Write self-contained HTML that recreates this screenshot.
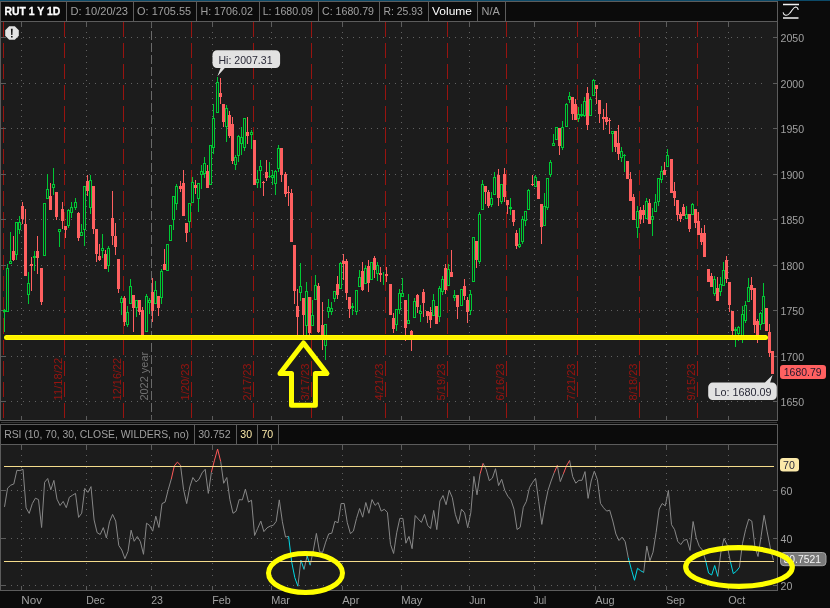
<!DOCTYPE html>
<html lang="en">
<head>
<meta charset="utf-8">
<title>RUT 1 Y 1D</title>
<style>
html,body{margin:0;padding:0;background:#0b0b0b;width:830px;height:608px;overflow:hidden}
svg{display:block}
</style>
</head>
<body>
<svg width="830" height="608" viewBox="0 0 830 608" font-family="'Liberation Sans', sans-serif" font-size="11">
<rect width="830" height="608" fill="#0b0b0b"/>
<rect x="0" y="0" width="830" height="1" fill="#0c4a68"/>
<rect x="1" y="22" width="776" height="398" fill="#1c1c1c"/>
<rect x="1" y="445" width="776" height="145" fill="#1c1c1c"/>
<g stroke="#616161" stroke-width="1" fill="none" shape-rendering="crispEdges">
<path d="M11 37.5H765" stroke-dasharray="1 5"/>
<path d="M11 83.5H765" stroke-dasharray="1 5"/>
<path d="M11 128.5H765" stroke-dasharray="1 5"/>
<path d="M11 174.5H765" stroke-dasharray="1 5"/>
<path d="M11 219.5H765" stroke-dasharray="1 5"/>
<path d="M11 265.5H765" stroke-dasharray="1 5"/>
<path d="M11 310.5H765" stroke-dasharray="1 5"/>
<path d="M11 356.5H765" stroke-dasharray="1 5"/>
<path d="M11 401.5H765" stroke-dasharray="1 5"/>
<path d="M11 490.5H765" stroke-dasharray="1 5"/>
<path d="M11 538.5H765" stroke-dasharray="1 5"/>
<path d="M11 585.5H765" stroke-dasharray="1 5"/>
<path d="M21.5 32V406" stroke-dasharray="1 5"/>
<path d="M21.5 455V577" stroke-dasharray="1 5"/>
<path d="M86.5 32V406" stroke-dasharray="1 5"/>
<path d="M86.5 455V577" stroke-dasharray="1 5"/>
<path d="M212.5 32V406" stroke-dasharray="1 5"/>
<path d="M212.5 455V577" stroke-dasharray="1 5"/>
<path d="M271.5 32V406" stroke-dasharray="1 5"/>
<path d="M271.5 455V577" stroke-dasharray="1 5"/>
<path d="M342.5 32V406" stroke-dasharray="1 5"/>
<path d="M342.5 455V577" stroke-dasharray="1 5"/>
<path d="M401.5 32V406" stroke-dasharray="1 5"/>
<path d="M401.5 455V577" stroke-dasharray="1 5"/>
<path d="M469.5 32V406" stroke-dasharray="1 5"/>
<path d="M469.5 455V577" stroke-dasharray="1 5"/>
<path d="M534.5 32V406" stroke-dasharray="1 5"/>
<path d="M534.5 455V577" stroke-dasharray="1 5"/>
<path d="M595.5 32V406" stroke-dasharray="1 5"/>
<path d="M595.5 455V577" stroke-dasharray="1 5"/>
<path d="M666.5 32V406" stroke-dasharray="1 5"/>
<path d="M666.5 455V577" stroke-dasharray="1 5"/>
<path d="M728.5 32V406" stroke-dasharray="1 5"/>
<path d="M728.5 455V577" stroke-dasharray="1 5"/>
</g>
<path d="M151.5 22V420" stroke="#6a6a6a" stroke-width="1" stroke-dasharray="8.5 3.5" stroke-dashoffset="2.9" shape-rendering="crispEdges"/>
<path d="M151.5 455V577" stroke="#616161" stroke-width="1" stroke-dasharray="1 5" shape-rendering="crispEdges"/>
<g stroke="#981410" stroke-width="1" shape-rendering="crispEdges">
<path d="M3.5 21.5V418.4" stroke-dasharray="15.4 5.8"/>
<path d="M64.5 21.5V418.4" stroke-dasharray="15.4 5.8"/>
<path d="M123.5 21.5V418.4" stroke-dasharray="15.4 5.8"/>
<path d="M191.5 21.5V418.4" stroke-dasharray="15.4 5.8"/>
<path d="M253.5 21.5V418.4" stroke-dasharray="15.4 5.8"/>
<path d="M311.5 21.5V418.4" stroke-dasharray="15.4 5.8"/>
<path d="M385.5 21.5V418.4" stroke-dasharray="15.4 5.8"/>
<path d="M447.5 21.5V418.4" stroke-dasharray="15.4 5.8"/>
<path d="M506.5 21.5V418.4" stroke-dasharray="15.4 5.8"/>
<path d="M577.5 21.5V418.4" stroke-dasharray="15.4 5.8"/>
<path d="M639.5 21.5V418.4" stroke-dasharray="15.4 5.8"/>
<path d="M697.5 21.5V418.4" stroke-dasharray="15.4 5.8"/>
</g>
<g fill="#981410" font-size="11.5">
<text transform="translate(61.5 400.4) rotate(-90)" textLength="42.6" lengthAdjust="spacingAndGlyphs">11/18/22</text>
<text transform="translate(120.5 400.4) rotate(-90)" textLength="42.6" lengthAdjust="spacingAndGlyphs">12/16/22</text>
<text transform="translate(188.5 400.4) rotate(-90)" textLength="36.8" lengthAdjust="spacingAndGlyphs">1/20/23</text>
<text transform="translate(250.5 400.4) rotate(-90)" textLength="36.8" lengthAdjust="spacingAndGlyphs">2/17/23</text>
<text transform="translate(308.5 400.4) rotate(-90)" textLength="36.8" lengthAdjust="spacingAndGlyphs">3/17/23</text>
<text transform="translate(382.5 400.4) rotate(-90)" textLength="36.8" lengthAdjust="spacingAndGlyphs">4/21/23</text>
<text transform="translate(444.5 400.4) rotate(-90)" textLength="36.8" lengthAdjust="spacingAndGlyphs">5/19/23</text>
<text transform="translate(503.5 400.4) rotate(-90)" textLength="36.8" lengthAdjust="spacingAndGlyphs">6/16/23</text>
<text transform="translate(574.5 400.4) rotate(-90)" textLength="36.8" lengthAdjust="spacingAndGlyphs">7/21/23</text>
<text transform="translate(636.5 400.4) rotate(-90)" textLength="36.8" lengthAdjust="spacingAndGlyphs">8/18/23</text>
<text transform="translate(694.5 400.4) rotate(-90)" textLength="36.8" lengthAdjust="spacingAndGlyphs">9/15/23</text>
</g>
<text transform="translate(147.6 400.6) rotate(-90)" fill="#707070" font-size="11.3" textLength="48.8" lengthAdjust="spacingAndGlyphs">2022 year</text>
<g stroke="#5c5c5c" stroke-width="1" shape-rendering="crispEdges">
<path d="M21.5 22V27M21.5 416V420M21.5 445V450M21.5 586V590"/>
<path d="M86.5 22V27M86.5 416V420M86.5 445V450M86.5 586V590"/>
<path d="M151.5 22V27M151.5 416V420M151.5 445V450M151.5 586V590"/>
<path d="M212.5 22V27M212.5 416V420M212.5 445V450M212.5 586V590"/>
<path d="M271.5 22V27M271.5 416V420M271.5 445V450M271.5 586V590"/>
<path d="M342.5 22V27M342.5 416V420M342.5 445V450M342.5 586V590"/>
<path d="M401.5 22V27M401.5 416V420M401.5 445V450M401.5 586V590"/>
<path d="M469.5 22V27M469.5 416V420M469.5 445V450M469.5 586V590"/>
<path d="M534.5 22V27M534.5 416V420M534.5 445V450M534.5 586V590"/>
<path d="M595.5 22V27M595.5 416V420M595.5 445V450M595.5 586V590"/>
<path d="M666.5 22V27M666.5 416V420M666.5 445V450M666.5 586V590"/>
<path d="M728.5 22V27M728.5 416V420M728.5 445V450M728.5 586V590"/>
<path d="M1 37.5H6M773 37.5H777"/>
<path d="M1 83.5H6M773 83.5H777"/>
<path d="M1 128.5H6M773 128.5H777"/>
<path d="M1 174.5H6M773 174.5H777"/>
<path d="M1 219.5H6M773 219.5H777"/>
<path d="M1 265.5H6M773 265.5H777"/>
<path d="M1 310.5H6M773 310.5H777"/>
<path d="M1 356.5H6M773 356.5H777"/>
<path d="M1 401.5H6M773 401.5H777"/>
<path d="M1 490.5H6M773 490.5H777"/>
<path d="M1 538.5H6M773 538.5H777"/>
<path d="M1 585.5H6M773 585.5H777"/>
</g>
<g shape-rendering="crispEdges">
<path fill="#00c834" d="M4 309h1v23h-1zM7 264h1v48h-1zM10 232h1v32h-1zM16 222h1v38h-1zM19 216h1v18h-1zM28 272h1v32h-1zM34 251h1v20h-1zM44 203h1v53h-1zM47 174h1v25h-1zM53 168h1v27h-1zM59 229h1v18h-1zM68 209h1v19h-1zM71 202h1v16h-1zM75 198h1v12h-1zM81 224h1v12h-1zM84 186h1v60h-1zM90 175h1v39h-1zM102 234h1v24h-1zM108 246h1v26h-1zM121 296h1v19h-1zM127 306h1v21h-1zM130 279h1v25h-1zM136 300h1v17h-1zM146 294h1v38h-1zM149 298h1v16h-1zM155 281h1v23h-1zM161 269h1v35h-1zM167 244h1v27h-1zM170 225h1v16h-1zM173 196h1v34h-1zM176 184h1v26h-1zM189 203h1v29h-1zM192 177h1v26h-1zM198 183h1v29h-1zM201 165h1v24h-1zM204 157h1v21h-1zM210 145h1v40h-1zM213 104h1v50h-1zM217 77h1v36h-1zM226 105h1v37h-1zM235 155h1v15h-1zM238 135h1v27h-1zM241 127h1v28h-1zM244 118h1v33h-1zM251 130h1v19h-1zM257 170h1v18h-1zM260 160h1v28h-1zM269 162h1v16h-1zM272 170h1v15h-1zM275 170h1v25h-1zM278 145h1v27h-1zM300 263h1v38h-1zM306 282h1v54h-1zM312 300h1v26h-1zM315 275h1v25h-1zM325 324h1v36h-1zM328 299h1v19h-1zM331 302h1v13h-1zM334 291h1v11h-1zM340 262h1v27h-1zM352 303h1v12h-1zM356 290h1v25h-1zM359 270h1v17h-1zM365 265h1v19h-1zM371 262h1v18h-1zM377 262h1v19h-1zM383 272h1v13h-1zM396 309h1v22h-1zM399 289h1v25h-1zM402 278h1v19h-1zM408 294h1v30h-1zM414 298h1v20h-1zM420 305h1v17h-1zM433 294h1v22h-1zM439 286h1v36h-1zM442 276h1v19h-1zM448 264h1v22h-1zM454 290h1v11h-1zM461 289h1v17h-1zM470 290h1v25h-1zM473 237h1v45h-1zM479 212h1v52h-1zM482 180h1v30h-1zM491 192h1v15h-1zM494 172h1v23h-1zM501 184h1v20h-1zM510 198h1v17h-1zM519 228h1v20h-1zM522 216h1v28h-1zM525 211h1v15h-1zM528 189h1v21h-1zM535 175h1v12h-1zM544 193h1v33h-1zM547 178h1v32h-1zM550 160h1v17h-1zM553 134h1v12h-1zM556 127h1v13h-1zM562 121h1v29h-1zM566 103h1v24h-1zM569 92h1v11h-1zM578 107h1v15h-1zM581 104h1v13h-1zM584 97h1v20h-1zM590 97h1v19h-1zM593 79h1v17h-1zM612 131h1v21h-1zM621 147h1v15h-1zM624 154h1v18h-1zM637 206h1v32h-1zM646 198h1v21h-1zM652 208h1v28h-1zM655 194h1v18h-1zM658 178h1v28h-1zM661 166h1v17h-1zM667 149h1v18h-1zM686 206h1v13h-1zM692 203h1v12h-1zM714 276h1v20h-1zM720 277h1v19h-1zM723 262h1v24h-1zM735 327h1v20h-1zM738 326h1v15h-1zM742 306h1v37h-1zM745 301h1v22h-1zM748 278h1v24h-1zM760 312h1v18h-1zM763 283h1v41h-1zM3 310h3v2h-3zM33 256h3v2h-3zM268 176h3v1h-3zM351 306h3v2h-3zM509 207h3v2h-3zM580 114h3v2h-3zM623 155h3v1h-3zM734 329h3v2h-3z"/>
<path fill="#ff6060" d="M13 236h1v25h-1zM22 202h1v22h-1zM25 209h1v67h-1zM31 257h1v34h-1zM37 236h1v38h-1zM41 268h1v37h-1zM50 183h1v27h-1zM56 192h1v28h-1zM62 202h1v27h-1zM65 226h1v12h-1zM78 212h1v29h-1zM87 175h1v21h-1zM93 186h1v48h-1zM96 229h1v33h-1zM99 244h1v17h-1zM105 250h1v19h-1zM112 191h1v54h-1zM115 223h1v32h-1zM118 259h1v34h-1zM124 296h1v30h-1zM133 295h1v37h-1zM139 300h1v15h-1zM142 307h1v28h-1zM152 278h1v44h-1zM158 296h1v20h-1zM164 249h1v21h-1zM180 181h1v11h-1zM183 170h1v46h-1zM186 223h1v19h-1zM195 180h1v14h-1zM207 165h1v23h-1zM220 78h1v26h-1zM223 104h1v23h-1zM229 111h1v27h-1zM232 117h1v47h-1zM247 117h1v27h-1zM254 140h1v45h-1zM263 181h1v15h-1zM266 160h1v21h-1zM281 148h1v34h-1zM285 172h1v25h-1zM288 186h1v20h-1zM291 189h1v53h-1zM294 245h1v59h-1zM297 289h1v47h-1zM303 298h1v39h-1zM309 297h1v38h-1zM318 283h1v50h-1zM322 302h1v48h-1zM337 276h1v23h-1zM343 254h1v26h-1zM346 259h1v41h-1zM349 297h1v21h-1zM362 262h1v29h-1zM368 260h1v32h-1zM374 256h1v22h-1zM380 267h1v15h-1zM386 267h1v15h-1zM390 284h1v31h-1zM393 313h1v20h-1zM405 300h1v41h-1zM411 330h1v21h-1zM417 294h1v19h-1zM423 289h1v28h-1zM427 311h1v12h-1zM430 307h1v21h-1zM436 306h1v18h-1zM445 264h1v30h-1zM451 250h1v27h-1zM457 295h1v24h-1zM464 279h1v21h-1zM467 297h1v26h-1zM476 241h1v27h-1zM485 186h1v18h-1zM488 190h1v18h-1zM498 169h1v37h-1zM504 168h1v34h-1zM507 200h1v14h-1zM513 210h1v16h-1zM516 230h1v19h-1zM532 175h1v11h-1zM538 181h1v18h-1zM541 204h1v40h-1zM559 128h1v27h-1zM572 97h1v23h-1zM575 99h1v21h-1zM587 87h1v43h-1zM596 85h1v19h-1zM599 100h1v23h-1zM603 109h1v21h-1zM606 103h1v22h-1zM609 118h1v16h-1zM615 131h1v21h-1zM618 125h1v35h-1zM627 161h1v18h-1zM630 172h1v29h-1zM633 194h1v26h-1zM640 207h1v17h-1zM643 205h1v18h-1zM649 199h1v25h-1zM664 162h1v13h-1zM671 159h1v34h-1zM674 182h1v24h-1zM677 200h1v21h-1zM680 212h1v10h-1zM683 204h1v12h-1zM689 214h1v18h-1zM695 209h1v19h-1zM698 212h1v23h-1zM701 228h1v17h-1zM704 225h1v32h-1zM708 269h1v13h-1zM711 273h1v14h-1zM717 277h1v24h-1zM726 256h1v27h-1zM729 282h1v30h-1zM732 311h1v24h-1zM751 277h1v23h-1zM754 288h1v45h-1zM757 319h1v24h-1zM766 308h1v23h-1zM769 324h1v33h-1zM772 351h1v23h-1zM12 251h3v9h-3zM21 206h3v13h-3zM24 224h3v52h-3zM30 264h3v2h-3zM36 251h3v7h-3zM40 268h3v34h-3zM49 196h3v14h-3zM55 192h3v25h-3zM61 209h3v12h-3zM64 226h3v4h-3zM77 213h3v25h-3zM86 181h3v10h-3zM92 186h3v43h-3zM95 229h3v25h-3zM98 256h3v4h-3zM104 254h3v15h-3zM111 218h3v18h-3zM114 236h3v11h-3zM117 259h3v30h-3zM123 298h3v24h-3zM132 295h3v13h-3zM138 300h3v12h-3zM141 310h3v25h-3zM151 292h3v19h-3zM157 296h3v12h-3zM163 264h3v6h-3zM179 186h3v3h-3zM182 183h3v33h-3zM185 223h3v10h-3zM194 185h3v3h-3zM206 171h3v17h-3zM219 93h3v4h-3zM222 104h3v18h-3zM228 115h3v21h-3zM231 124h3v37h-3zM246 132h3v4h-3zM253 140h3v45h-3zM262 182h3v1h-3zM265 172h3v6h-3zM280 148h3v27h-3zM284 174h3v20h-3zM287 192h3v1h-3zM290 193h3v49h-3zM293 245h3v46h-3zM296 306h3v11h-3zM302 298h3v17h-3zM308 297h3v36h-3zM317 286h3v46h-3zM321 325h3v13h-3zM336 284h3v11h-3zM342 261h3v3h-3zM345 261h3v32h-3zM348 297h3v12h-3zM361 271h3v19h-3zM367 266h3v17h-3zM373 258h3v12h-3zM379 273h3v2h-3zM385 274h3v2h-3zM389 284h3v31h-3zM392 318h3v11h-3zM404 300h3v28h-3zM410 331h3v4h-3zM416 295h3v12h-3zM422 292h3v11h-3zM426 311h3v5h-3zM429 312h3v8h-3zM435 306h3v18h-3zM444 268h3v22h-3zM450 272h3v5h-3zM456 295h3v12h-3zM463 286h3v10h-3zM466 300h3v12h-3zM475 241h3v19h-3zM484 186h3v6h-3zM487 192h3v14h-3zM497 175h3v23h-3zM503 174h3v23h-3zM506 200h3v5h-3zM512 210h3v12h-3zM515 233h3v13h-3zM531 184h3v1h-3zM537 181h3v18h-3zM540 204h3v23h-3zM558 128h3v18h-3zM571 97h3v17h-3zM574 104h3v16h-3zM586 93h3v32h-3zM595 85h3v4h-3zM598 100h3v14h-3zM602 117h3v2h-3zM605 117h3v5h-3zM608 120h3v1h-3zM614 131h3v16h-3zM617 143h3v11h-3zM626 161h3v18h-3zM629 179h3v22h-3zM632 197h3v23h-3zM639 210h3v9h-3zM642 210h3v5h-3zM648 203h3v21h-3zM663 170h3v5h-3zM670 159h3v34h-3zM673 191h3v7h-3zM676 200h3v15h-3zM679 214h3v5h-3zM682 207h3v9h-3zM688 214h3v15h-3zM694 209h3v14h-3zM697 221h3v14h-3zM700 233h3v9h-3zM703 233h3v24h-3zM707 269h3v13h-3zM710 276h3v11h-3zM716 288h3v13h-3zM725 260h3v19h-3zM728 282h3v23h-3zM731 311h3v20h-3zM750 285h3v5h-3zM753 288h3v37h-3zM756 321h3v14h-3zM765 308h3v23h-3zM768 332h3v21h-3zM771 351h3v23h-3z"/>
<g fill="#1c1c1c" stroke="#00c834" stroke-width="1"><rect x="6.5" y="268.5" width="2" height="43"/><rect x="9.5" y="261.5" width="2" height="2"/><rect x="15.5" y="222.5" width="2" height="32"/><rect x="18.5" y="222.5" width="2" height="7"/><rect x="27.5" y="283.5" width="2" height="11"/><rect x="43.5" y="203.5" width="2" height="52"/><rect x="46.5" y="189.5" width="2" height="9"/><rect x="52.5" y="184.5" width="2" height="3"/><rect x="58.5" y="229.5" width="2" height="2"/><rect x="67.5" y="210.5" width="2" height="15"/><rect x="70.5" y="207.5" width="2" height="5"/><rect x="74.5" y="202.5" width="2" height="5"/><rect x="80.5" y="232.5" width="2" height="3"/><rect x="83.5" y="186.5" width="2" height="43"/><rect x="89.5" y="180.5" width="2" height="27"/><rect x="101.5" y="248.5" width="2" height="2"/><rect x="107.5" y="248.5" width="2" height="17"/><rect x="120.5" y="298.5" width="2" height="4"/><rect x="126.5" y="312.5" width="2" height="12"/><rect x="129.5" y="286.5" width="2" height="17"/><rect x="135.5" y="300.5" width="2" height="7"/><rect x="145.5" y="296.5" width="2" height="35"/><rect x="148.5" y="300.5" width="2" height="2"/><rect x="154.5" y="290.5" width="2" height="13"/><rect x="160.5" y="271.5" width="2" height="26"/><rect x="166.5" y="244.5" width="2" height="26"/><rect x="169.5" y="225.5" width="2" height="15"/><rect x="172.5" y="196.5" width="2" height="23"/><rect x="175.5" y="186.5" width="2" height="17"/><rect x="188.5" y="203.5" width="2" height="18"/><rect x="191.5" y="182.5" width="2" height="20"/><rect x="197.5" y="183.5" width="2" height="15"/><rect x="200.5" y="171.5" width="2" height="3"/><rect x="203.5" y="163.5" width="2" height="10"/><rect x="209.5" y="145.5" width="2" height="39"/><rect x="212.5" y="118.5" width="2" height="29"/><rect x="216.5" y="82.5" width="2" height="30"/><rect x="225.5" y="108.5" width="2" height="18"/><rect x="234.5" y="157.5" width="2" height="7"/><rect x="237.5" y="136.5" width="2" height="19"/><rect x="240.5" y="137.5" width="2" height="6"/><rect x="243.5" y="118.5" width="2" height="29"/><rect x="250.5" y="132.5" width="2" height="2"/><rect x="256.5" y="179.5" width="2" height="3"/><rect x="259.5" y="166.5" width="2" height="4"/><rect x="271.5" y="175.5" width="2" height="2"/><rect x="274.5" y="171.5" width="2" height="12"/><rect x="277.5" y="148.5" width="2" height="20"/><rect x="299.5" y="286.5" width="2" height="6"/><rect x="305.5" y="291.5" width="2" height="34"/><rect x="311.5" y="315.5" width="2" height="10"/><rect x="314.5" y="285.5" width="2" height="14"/><rect x="324.5" y="324.5" width="2" height="21"/><rect x="327.5" y="307.5" width="2" height="4"/><rect x="330.5" y="308.5" width="2" height="3"/><rect x="333.5" y="291.5" width="2" height="7"/><rect x="339.5" y="263.5" width="2" height="25"/><rect x="355.5" y="290.5" width="2" height="21"/><rect x="358.5" y="277.5" width="2" height="9"/><rect x="364.5" y="268.5" width="2" height="15"/><rect x="370.5" y="262.5" width="2" height="17"/><rect x="376.5" y="265.5" width="2" height="8"/><rect x="395.5" y="309.5" width="2" height="15"/><rect x="398.5" y="293.5" width="2" height="16"/><rect x="401.5" y="293.5" width="2" height="3"/><rect x="407.5" y="320.5" width="2" height="3"/><rect x="413.5" y="301.5" width="2" height="16"/><rect x="419.5" y="311.5" width="2" height="2"/><rect x="432.5" y="300.5" width="2" height="15"/><rect x="438.5" y="288.5" width="2" height="28"/><rect x="441.5" y="279.5" width="2" height="12"/><rect x="447.5" y="269.5" width="2" height="16"/><rect x="453.5" y="295.5" width="2" height="2"/><rect x="460.5" y="289.5" width="2" height="16"/><rect x="469.5" y="294.5" width="2" height="16"/><rect x="472.5" y="237.5" width="2" height="44"/><rect x="478.5" y="214.5" width="2" height="47"/><rect x="481.5" y="184.5" width="2" height="25"/><rect x="490.5" y="198.5" width="2" height="6"/><rect x="493.5" y="177.5" width="2" height="17"/><rect x="500.5" y="184.5" width="2" height="17"/><rect x="518.5" y="244.5" width="2" height="2"/><rect x="521.5" y="219.5" width="2" height="22"/><rect x="524.5" y="211.5" width="2" height="9"/><rect x="527.5" y="190.5" width="2" height="19"/><rect x="534.5" y="177.5" width="2" height="9"/><rect x="543.5" y="206.5" width="2" height="19"/><rect x="546.5" y="178.5" width="2" height="29"/><rect x="549.5" y="162.5" width="2" height="12"/><rect x="552.5" y="143.5" width="2" height="2"/><rect x="555.5" y="127.5" width="2" height="12"/><rect x="561.5" y="127.5" width="2" height="20"/><rect x="565.5" y="104.5" width="2" height="22"/><rect x="568.5" y="96.5" width="2" height="3"/><rect x="577.5" y="114.5" width="2" height="4"/><rect x="583.5" y="101.5" width="2" height="14"/><rect x="589.5" y="99.5" width="2" height="16"/><rect x="592.5" y="80.5" width="2" height="15"/><rect x="611.5" y="131.5" width="2" height="2"/><rect x="620.5" y="151.5" width="2" height="6"/><rect x="636.5" y="211.5" width="2" height="16"/><rect x="645.5" y="201.5" width="2" height="17"/><rect x="651.5" y="216.5" width="2" height="3"/><rect x="654.5" y="202.5" width="2" height="9"/><rect x="657.5" y="178.5" width="2" height="23"/><rect x="660.5" y="171.5" width="2" height="8"/><rect x="666.5" y="155.5" width="2" height="11"/><rect x="685.5" y="214.5" width="2" height="4"/><rect x="691.5" y="204.5" width="2" height="10"/><rect x="713.5" y="279.5" width="2" height="14"/><rect x="719.5" y="284.5" width="2" height="7"/><rect x="722.5" y="270.5" width="2" height="15"/><rect x="737.5" y="327.5" width="2" height="6"/><rect x="741.5" y="314.5" width="2" height="21"/><rect x="744.5" y="305.5" width="2" height="15"/><rect x="747.5" y="287.5" width="2" height="14"/><rect x="759.5" y="313.5" width="2" height="11"/><rect x="762.5" y="296.5" width="2" height="27"/></g>
</g>
<g fill="none" stroke-width="1" stroke-linejoin="miter" stroke-miterlimit="3">
<path stroke="#878787" d="M4.5 506.9L7.6 488.1L10.7 485.2L13.8 484.0L16.9 470.3L19.9 470.6L23.0 469.3L26.1 507.9L29.2 513.4L32.3 503.6L35.4 498.2L38.5 499.6L41.6 527.5L44.6 482.3L47.7 478.5L50.8 489.8L53.9 480.4L57.0 499.2L60.1 505.5L63.2 501.4L66.3 507.7L69.3 497.3L72.4 495.3L75.5 493.4L78.6 517.4L81.7 513.2L84.8 488.4L87.9 492.4L91.0 486.6L94.1 520.0L97.1 532.6L100.2 534.5L103.3 527.6L106.4 538.0L109.5 521.8L112.6 514.4L115.7 521.1L118.8 545.5L121.8 550.0L124.9 558.7L128.0 551.4L131.1 530.2L134.2 541.3L137.3 536.5L140.4 541.7L143.5 554.3L146.5 523.2L149.6 525.4L152.7 531.2L155.8 516.2L158.9 527.5L162.0 503.6L165.1 502.1L168.2 489.8L171.3 479.0M180.5 465.2L183.6 489.8L186.7 503.6L189.8 486.9L192.9 477.5L196.0 481.9L199.0 479.4L202.1 472.8L205.2 469.3L208.3 493.4L211.4 472.2M220.7 461.5L223.7 483.3L226.8 477.5L229.9 499.7L233.0 513.3L236.1 511.2L239.2 499.6L242.3 499.9L245.4 489.1L248.5 502.1L251.5 500.2L254.6 535.5L257.7 528.3L260.8 521.1L263.9 531.6L267.0 527.9L270.1 526.1L273.2 525.4L276.2 521.4L279.3 499.9L282.4 521.8L285.5 537.0L288.6 536.4M297.9 586.2L300.9 560.1M304.0 569.4L307.1 556.0M310.2 565.2L313.3 550.4L316.4 533.4L319.5 551.8L322.6 552.3L325.7 542.1L328.7 533.9L331.8 533.2L334.9 521.3L338.0 522.8L341.1 503.5L344.2 503.5L347.3 522.7L350.4 533.6L353.4 531.1L356.5 518.4L359.6 508.5L362.7 517.2L365.8 502.5L368.9 513.3L372.0 499.6L375.1 505.4L378.1 502.5L381.2 511.1L384.3 509.3L387.4 512.3L390.5 544.4L393.6 553.5L396.7 532.8L399.8 518.4L402.9 518.4L405.9 543.2L409.0 536.4L412.1 548.7L415.2 515.5L418.3 519.1L421.4 522.4L424.5 514.3L427.6 525.3L430.6 528.5L433.7 510.4L436.8 529.6L439.9 501.0L443.0 495.5L446.1 504.7L449.2 490.3L452.3 497.6L455.3 514.3L458.4 523.7L461.5 509.2L464.6 512.8L467.7 527.6L470.8 512.8L473.9 476.4L477.0 494.8L480.1 473.8M483.1 463.4L486.2 469.5L489.3 480.7L492.4 478.1L495.5 468.7L498.6 485.6L501.7 479.3L504.8 490.4L507.8 496.2L510.9 499.8L514.0 509.2L517.1 529.5L520.2 527.3L523.3 507.3L526.4 501.3L529.5 487.5L532.5 482.5L535.6 478.4L538.7 501.3L541.8 524.4L544.9 505.6L548.0 490.4L551.1 481.0L554.2 472.7M557.3 465.4L560.3 481.6L563.4 473.8M569.6 460.5L572.7 476.7L575.8 483.2L578.9 480.3L582.0 480.3L585.0 471.6L588.1 498.4L591.2 481.0L594.3 471.2L597.4 479.6L600.5 503.4L603.6 507.8L606.7 511.1L609.7 510.2L612.8 521.0L615.9 534.0L619.0 540.5L622.1 537.2L625.2 541.7L628.3 557.9M643.7 572.4L646.8 546.1L649.9 560.8L653.0 552.2L656.1 532.6L659.2 509.0L662.2 503.5L665.3 505.9L668.4 490.4L671.5 524.7L674.6 529.7L677.7 541.3L680.8 544.6L683.9 540.3L686.9 539.4L690.0 550.4L693.1 521.5L696.2 537.7L699.3 546.4L702.4 550.0L705.5 560.1M717.8 576.4L720.9 552.2L724.0 538.4L727.1 544.9L730.2 560.8M739.4 567.3L742.5 543.5L745.6 529.7L748.7 519.2L751.8 521.1L754.9 546.4L758.0 556.5L761.1 536.3L764.1 515.3L767.2 531.9L770.3 547.8L773.4 560.2"/>
<path stroke="#ff5a5a" d="M171.3 479.0L174.3 465.9L177.4 462.1L180.5 465.2M211.4 472.2L214.5 460.2L217.6 449.0L220.7 461.5M480.1 473.8L483.1 463.4M554.2 472.7L557.3 465.4M563.4 473.8L566.5 465.8L569.6 460.5"/>
<path stroke="#00d8e6" d="M288.6 536.4L291.7 562.0L294.8 577.6L297.9 586.2M300.9 560.1L304.0 569.4M307.1 556.0L310.2 565.2M628.3 557.9L631.4 569.5L634.5 580.3L637.5 568.3L640.6 570.7L643.7 572.4M705.5 560.1L708.6 573.1L711.7 575.0L714.7 565.5L717.8 576.4M730.2 560.8L733.3 573.6L736.4 571.2L739.4 567.3"/>
</g>
<path d="M4 466.5H774M4 561.5H774" stroke="#f5dc8c" stroke-width="1" shape-rendering="crispEdges"/>
<g fill="#5c5c5c" shape-rendering="crispEdges">
<rect x="0" y="1" width="1" height="420"/>
<rect x="777" y="1" width="1" height="420"/>
<rect x="0" y="1" width="778" height="1"/>
<rect x="0" y="21" width="778" height="1"/>
<rect x="0" y="420" width="778" height="1"/>
<rect x="1" y="422" width="776" height="1" fill="#343434"/>
<rect x="0" y="424" width="778" height="1"/>
<rect x="0" y="444" width="778" height="1"/>
<rect x="0" y="590" width="778" height="1"/>
<rect x="0" y="424" width="1" height="167"/>
<rect x="777" y="424" width="1" height="167"/>
<rect x="66" y="2" width="1" height="19"/>
<rect x="133" y="2" width="1" height="19"/>
<rect x="196" y="2" width="1" height="19"/>
<rect x="259" y="2" width="1" height="19"/>
<rect x="318" y="2" width="1" height="19"/>
<rect x="379" y="2" width="1" height="19"/>
<rect x="428" y="2" width="1" height="19"/>
<rect x="477" y="2" width="1" height="19"/>
<rect x="505" y="2" width="1" height="19"/>
<rect x="194" y="425" width="1" height="19"/>
<rect x="236" y="425" width="1" height="19"/>
<rect x="257" y="425" width="1" height="19"/>
<rect x="278" y="425" width="1" height="19"/>
</g>
<text x="4.5" y="15" textLength="55.7" lengthAdjust="spacingAndGlyphs" fill="#ffffff" font-weight="bold" stroke="#ffffff" stroke-width="0.3">RUT 1 Y 1D</text>
<text x="70.6" y="15" textLength="57.4" lengthAdjust="spacingAndGlyphs" fill="#a0a0a0">D: 10/20/23</text>
<text x="137.1" y="15" textLength="54" lengthAdjust="spacingAndGlyphs" fill="#a0a0a0">O: 1705.55</text>
<text x="200.4" y="15" textLength="52.5" lengthAdjust="spacingAndGlyphs" fill="#a0a0a0">H: 1706.02</text>
<text x="262.7" y="15" textLength="50.3" lengthAdjust="spacingAndGlyphs" fill="#a0a0a0">L: 1680.09</text>
<text x="322" y="15" textLength="52" lengthAdjust="spacingAndGlyphs" fill="#a0a0a0">C: 1680.79</text>
<text x="383.5" y="15" textLength="39.4" lengthAdjust="spacingAndGlyphs" fill="#a0a0a0">R: 25.93</text>
<text x="432" y="15" textLength="40" lengthAdjust="spacingAndGlyphs" fill="#ffffff">Volume</text>
<text x="481.6" y="15" textLength="18.3" lengthAdjust="spacingAndGlyphs" fill="#a0a0a0">N/A</text>
<text x="4.2" y="438" textLength="184.7" lengthAdjust="spacingAndGlyphs" fill="#a0a0a0">RSI (10, 70, 30, CLOSE, WILDERS, no)</text>
<text x="198.2" y="438" textLength="32.5" lengthAdjust="spacingAndGlyphs" fill="#a0a0a0">30.752</text>
<text x="240.3" y="438" textLength="11.8" lengthAdjust="spacingAndGlyphs" fill="#fbe9a9">30</text>
<text x="261.4" y="438" textLength="11.8" lengthAdjust="spacingAndGlyphs" fill="#fbe9a9">70</text>
<text x="780.5" y="42" textLength="23.6" lengthAdjust="spacingAndGlyphs" fill="#a0a0a0">2050</text>
<text x="780.5" y="88" textLength="23.6" lengthAdjust="spacingAndGlyphs" fill="#a0a0a0">2000</text>
<text x="780.5" y="133" textLength="23.6" lengthAdjust="spacingAndGlyphs" fill="#a0a0a0">1950</text>
<text x="780.5" y="179" textLength="23.6" lengthAdjust="spacingAndGlyphs" fill="#a0a0a0">1900</text>
<text x="780.5" y="224" textLength="23.6" lengthAdjust="spacingAndGlyphs" fill="#a0a0a0">1850</text>
<text x="780.5" y="270" textLength="23.6" lengthAdjust="spacingAndGlyphs" fill="#a0a0a0">1800</text>
<text x="780.5" y="315" textLength="23.6" lengthAdjust="spacingAndGlyphs" fill="#a0a0a0">1750</text>
<text x="780.5" y="361" textLength="23.6" lengthAdjust="spacingAndGlyphs" fill="#a0a0a0">1700</text>
<text x="780.5" y="406" textLength="23.6" lengthAdjust="spacingAndGlyphs" fill="#a0a0a0">1650</text>
<text x="780.5" y="495" textLength="11.8" lengthAdjust="spacingAndGlyphs" fill="#a0a0a0">60</text>
<text x="780.5" y="543" textLength="11.8" lengthAdjust="spacingAndGlyphs" fill="#a0a0a0">40</text>
<text x="780.5" y="590" textLength="11.8" lengthAdjust="spacingAndGlyphs" fill="#a0a0a0">20</text>
<text x="21.2" y="604" textLength="20.8" lengthAdjust="spacingAndGlyphs" fill="#a0a0a0">Nov</text>
<text x="86.2" y="604" textLength="18.6" lengthAdjust="spacingAndGlyphs" fill="#a0a0a0">Dec</text>
<text x="151.2" y="604" textLength="11.8" lengthAdjust="spacingAndGlyphs" fill="#a0a0a0">23</text>
<text x="212.2" y="604" textLength="18.5" lengthAdjust="spacingAndGlyphs" fill="#a0a0a0">Feb</text>
<text x="271.2" y="604" textLength="18.8" lengthAdjust="spacingAndGlyphs" fill="#a0a0a0">Mar</text>
<text x="342.2" y="604" textLength="17.2" lengthAdjust="spacingAndGlyphs" fill="#a0a0a0">Apr</text>
<text x="401.2" y="604" textLength="21.3" lengthAdjust="spacingAndGlyphs" fill="#a0a0a0">May</text>
<text x="469.2" y="604" textLength="16.5" lengthAdjust="spacingAndGlyphs" fill="#a0a0a0">Jun</text>
<text x="533.5" y="604" textLength="12.8" lengthAdjust="spacingAndGlyphs" fill="#a0a0a0">Jul</text>
<text x="595.2" y="604" textLength="19.5" lengthAdjust="spacingAndGlyphs" fill="#a0a0a0">Aug</text>
<text x="666.2" y="604" textLength="18.7" lengthAdjust="spacingAndGlyphs" fill="#a0a0a0">Sep</text>
<text x="728.2" y="604" textLength="17" lengthAdjust="spacingAndGlyphs" fill="#a0a0a0">Oct</text>
<g stroke="#ffffff" fill="none">
<path d="M783 4.45H799M783 18.05H798.5" stroke-width="1.5" stroke="#f2f2f2"/>
<path d="M783.1 12.3C783.8 15.8 787 16.2 789.5 13.5C792.5 10 793.5 7.2 795.5 7C797.2 7 797.9 8.4 798.3 9.8" stroke-width="1.1" stroke="#f0f0f0"/>
</g>
<path d="M9.2 26.2h5.6l4 4v5.6l-4 4h-5.6l-4-4v-5.6z" fill="#e2e2e2"/>
<path d="M10.9 28.8h1.8l-.3 6.2h-1.2zM11 36h1.6v1.5h-1.6z" fill="#101010"/>
<path d="M6.5 337.5H765.5" stroke="#ffff00" stroke-width="5" stroke-linecap="round"/>
<path d="M6 337.5H766" stroke="#ffef00" stroke-width="3"/>
<path d="M303.5 343L327 373.6H315.4V405.2H291.5V373.6H280Z" fill="none" stroke="#ffff00" stroke-width="5" stroke-linejoin="round"/>
<path d="M217 50.2h58.6a4.5 4.5 0 0 1 4.500 4.500v8.8a4.5 4.500 0 0 1-4.500 4.500h-50.800l-7.400 8.200l3.200-8.200h-3.600a4.500 4.500 0 0 1-4.500-4.500v-8.800a4.500 4.500 0 0 1 4.500-4.500z" fill="#e2e2e2"/>
<text x="218.5" y="64" textLength="54" lengthAdjust="spacingAndGlyphs" fill="#2a2a38">Hi: 2007.31</text>
<path d="M712.7 382.600h52.300l7.600-7.600l-2.500 7.600h2.200a4.500 4.500 0 0 1 4.500 4.500v8.400a4.500 4.500 0 0 1-4.500 4.500h-59.600a4.500 4.500 0 0 1-4.500-4.500v-8.400a4.500 4.500 0 0 1 4.500-4.500z" fill="#e2e2e2"/>
<text x="714.4" y="396" textLength="57.2" lengthAdjust="spacingAndGlyphs" fill="#2a2a38">Lo: 1680.09</text>
<rect x="780" y="365" width="46" height="14" rx="3" fill="#ff6060"/>
<text x="783.8" y="376" textLength="37.7" lengthAdjust="spacingAndGlyphs" fill="#20182c">1680.79</text>
<rect x="780" y="458" width="19" height="13.600" rx="3" fill="#fbe9a9"/>
<text x="783" y="469.2" textLength="11.8" lengthAdjust="spacingAndGlyphs" fill="#2c2c3c">70</text>
<rect x="780.5" y="552.5" width="45.5" height="13.2" rx="3.5" fill="#7a7a7a" stroke="#a6a6a6" stroke-width="1"/>
<text x="783.6" y="563" textLength="37.4" lengthAdjust="spacingAndGlyphs" fill="#f4f4f4">30.7521</text>
<ellipse cx="305.5" cy="573" rx="37" ry="19.5" fill="none" stroke="#ffff00" stroke-width="5"/>
<ellipse cx="739" cy="567" rx="53.3" ry="19.3" fill="none" stroke="#ffff00" stroke-width="5.2"/>

</svg>
</body>
</html>
